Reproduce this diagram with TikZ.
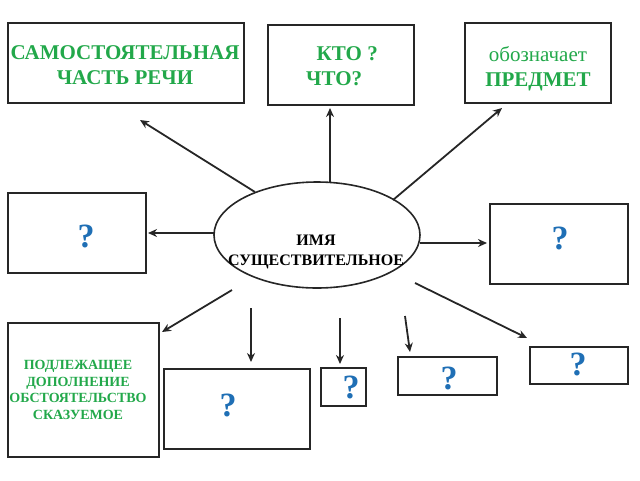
\documentclass[tikz,border=0pt]{standalone}
\usepackage{fontspec}
\setmainfont{Liberation Serif}
\usetikzlibrary{arrows.meta,shapes.geometric}
\definecolor{gr}{HTML}{22A84A}
\definecolor{bl}{HTML}{1F6FB5}
\begin{document}
\begin{tikzpicture}[x=1pt,y=-1pt,
 box/.style={draw=black!85,line width=1.6pt},
 q/.style={text=bl,font=\bfseries\fontsize{34}{34}\selectfont},
 g/.style={text=gr,font=\bfseries\fontsize{21}{25}\selectfont,align=center},
 arr/.style={-{Stealth[length=9pt,width=8pt,open]},line width=1.8pt,black!85}]
\useasboundingbox (0,0) rectangle (640,480);
\draw[box] (8,23) rectangle (244,103);
\draw[box] (268,25) rectangle (414,105);
\draw[box] (465,23) rectangle (611,103);
\draw[box] (8,193) rectangle (146,273);
\draw[box] (490,204) rectangle (628,284);
\draw[box] (8,323) rectangle (159,457);
\draw[box] (164,369) rectangle (310,449);
\draw[box] (321,368) rectangle (366,406);
\draw[box] (398,357) rectangle (497,395);
\draw[box] (530,347) rectangle (628,384);
\node[draw=black!85,line width=1.6pt,ellipse,minimum width=206pt,minimum height=106pt] (e) at (317,235) {};
\node[font=\bfseries\fontsize{16}{20}\selectfont,align=center] (et) at (316,252) {ИМЯ\\СУЩЕСТВИТЕЛЬНОЕ};
\node[g] (t1) at (125,65) {САМОСТОЯТЕЛЬНАЯ\\ЧАСТЬ РЕЧИ};
\node[g,align=left] (t2) at (342,66) {\ \ КТО ?\\ЧТО?};
\node[text=gr,align=center,font=\fontsize{21}{25}\selectfont] (t3) at (538,69) {обозначает\\\textbf{ПРЕДМЕТ}};
\node[text=gr,font=\bfseries\fontsize{14}{16.5}\selectfont,align=center] (t6) at (78,390) {ПОДЛЕЖАЩЕЕ\\ДОПОЛНЕНИЕ\\ОБСТОЯТЕЛЬСТВО\\СКАЗУЕМОЕ};
\node[q] (q4) at (86,236) {?};
\node[q] (q5) at (560,238) {?};
\node[q] (q7) at (228,405) {?};
\node[q] (q8) at (351,387) {?};
\node[q] (q9) at (449,378) {?};
\node[q] (q10) at (578,364) {?};
\foreach \n/\a/\b in {1/{255,192}/{140,120},2/{330,183}/{330,108},3/{393,200}/{502,108},4/{214,233}/{148,233},5/{420,243}/{487,243},6/{232,290}/{162,332},7/{251,308}/{251,362},8/{340,318}/{340,364},9/{405,316}/{410,352},10/{415,283}/{527,338}}{
 \coordinate (s\n) at (\a); \coordinate (d\n) at (\b);
 \draw[arr] (s\n) -- (d\n);}
\end{tikzpicture}
\end{document}
